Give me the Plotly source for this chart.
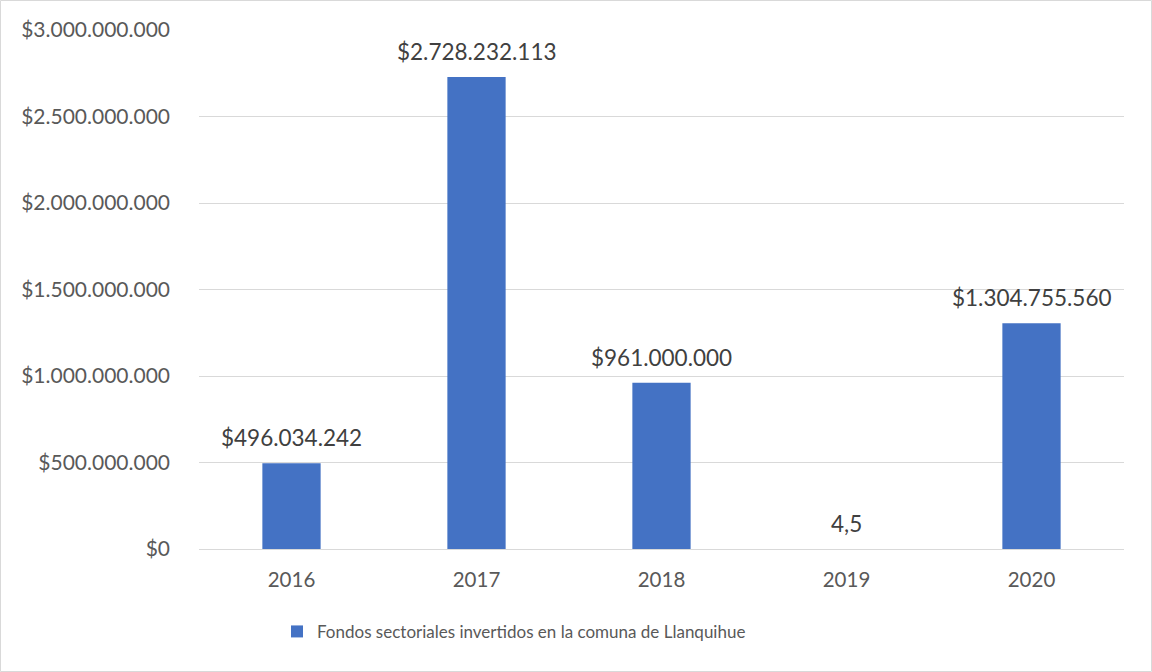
import plotly.graph_objects as go

years = ["2016", "2017", "2018", "2019", "2020"]
values = [496034242, 2728232113, 961000000, 4.5, 1304755560]
series_name = "Fondos sectoriales invertidos en la comuna de Llanquihue"
y_ticks = [0, 500000000, 1000000000, 1500000000, 2000000000, 2500000000, 3000000000]


def fmt_money(v):
    return "$" + f"{int(round(v)):,}".replace(",", ".")


def fmt_label(v):
    if v < 1000:
        return f"{v}".replace(".", ",")
    return fmt_money(v)


labels = [fmt_label(v) for v in values]
tick_text = [fmt_money(t) for t in y_ticks]
positions = list(range(len(years)))

W, H = 1152, 672
L, R, T, B = 199, 28, 30, 123
pw, ph = W - L - R, H - T - B

FONT = "Lato, Open Sans, sans-serif"

fig = go.Figure()
fig.add_trace(go.Bar(
    x=positions, y=values, name=series_name,
    marker=dict(color="#4472C4", line=dict(width=0)),
    cliponaxis=False,
    width=0.315,
    hoverinfo="skip",
))

annotations = [dict(x=p, y=v, xref="x", yref="y", text=lab, showarrow=False, yanchor="bottom",
                    yshift=10, font=dict(size=22.5, color="#404040", family=FONT))
               for p, v, lab in zip(positions, values, labels)]

fig.update_layout(
    width=W, height=H,
    margin=dict(l=L, r=R, t=T, b=B),
    paper_bgcolor="white", plot_bgcolor="white",
    font=dict(family=FONT, color="#595959", size=18),
    showlegend=True,
    legend=dict(orientation="h", x=(291 - 14 - L) / pw, xanchor="left", y=-0.125, yanchor="top",
                font=dict(size=17, color="#595959"), itemsizing="constant", itemwidth=30),
    annotations=annotations,
    shapes=[dict(type="rect", xref="paper", yref="paper",
                 x0=-L / pw + 0.5 / pw, x1=1 + (R - 0.5) / pw,
                 y0=-B / ph + 0.5 / ph, y1=1 + (T - 0.5) / ph,
                 line=dict(color="#d9d9d9", width=1), layer="below")],
)
fig.update_xaxes(type="linear", range=[-0.5, len(years) - 0.5], tickvals=positions, ticktext=years,
                 showgrid=False, showline=False, zeroline=False, ticks="", ticklabelstandoff=16,
                 tickfont=dict(size=20.5, color="#595959"))
fig.update_yaxes(range=[0, 3000000000], tickvals=y_ticks, ticktext=tick_text,
                 showgrid=True, gridcolor="#d9d9d9", gridwidth=1,
                 zeroline=True, zerolinecolor="#d9d9d9", zerolinewidth=1,
                 showline=False, ticks="", ticklabelstandoff=28,
                 tickfont=dict(size=21, color="#595959"))

fig.write_html("out.html", config={"displayModeBar": False},
               post_script="document.body.style.margin='0';document.body.style.padding='0';")
